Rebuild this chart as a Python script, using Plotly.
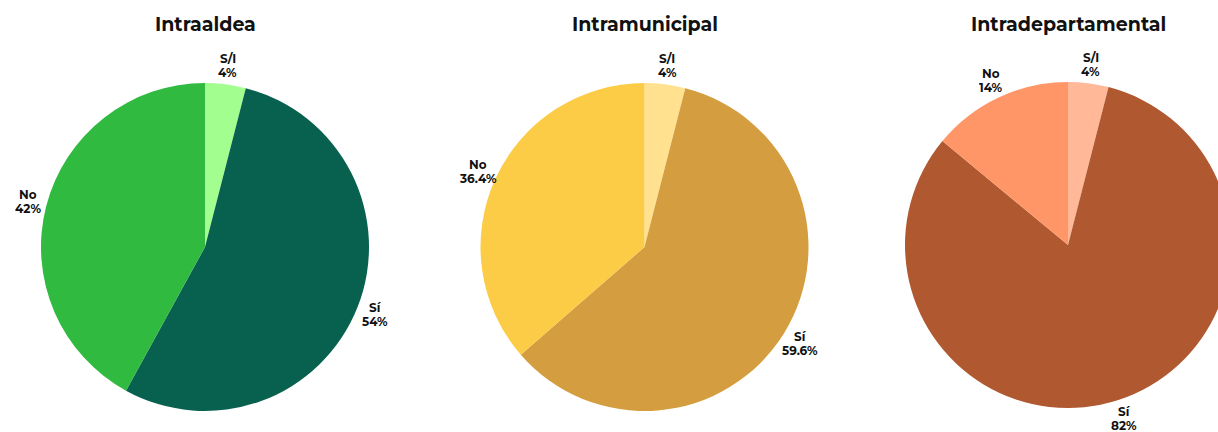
import math
import plotly.graph_objects as go

# Answer categories, drawn clockwise from 12 o'clock
categories = ["S/I", "Sí", "No"]

# Chart titles
titles = ["Intraaldea", "Intramunicipal", "Intradepartamental"]

# Percentages per scope (S/I, Sí, No)
intraaldea = [4, 54, 42]
intramunicipal = [4, 59.6, 36.4]
intradepartamental = [4, 82, 14]

series = [intraaldea, intramunicipal, intradepartamental]

# Slice colours per chart (S/I, Sí, No)
palettes = [
    ["#A2FE8F", "#08614F", "#30BA40"],
    ["#FFE18F", "#D49E40", "#FCCC46"],
    ["#FFB898", "#B05830", "#FF9668"],
]

# Canvas and pie geometry (pixels)
W, H = 1232, 432
centers = [(205, 247), (644.5, 247), (1068, 245)]
radii = [164, 164, 163]
label_gap = 19
line_step = 14
title_y = 25

FONT = "Montserrat, 'Open Sans', sans-serif"

fig = go.Figure()
annotations = []


def px_note(text, x, y, size, box_h=None):
    note = dict(
        text=text, xref="paper", yref="paper",
        x=x / W, y=1 - y / H, xanchor="center", yanchor="middle",
        showarrow=False, align="center",
        font=dict(family=FONT, size=size, color="#111111", weight=700),
    )
    if box_h:
        note["height"] = box_h
    return note


for values, colors, title, (cx, cy), R in zip(series, palettes, titles, centers, radii):
    fig.add_trace(go.Pie(
        labels=categories,
        values=values,
        sort=False,
        direction="clockwise",
        rotation=0,
        marker=dict(colors=colors, line=dict(width=0)),
        textinfo="none",
        hoverinfo="skip",
        showlegend=False,
        domain=dict(
            x=[(cx - R) / W, (cx + R) / W],
            y=[1 - (cy + R) / H, 1 - (cy - R) / H],
        ),
    ))

    # Title above each pie
    annotations.append(px_note(title, cx, title_y, 19))

    # Two-line outside labels at each slice's mid angle
    total = sum(values)
    cum = 0.0
    for cat, v in zip(categories, values):
        mid = (cum + v / 2) / total * 2 * math.pi
        cum += v
        r = R + label_gap
        lx = cx + r * math.sin(mid)
        ly = cy - r * math.cos(mid)
        annotations.append(px_note(cat, lx, ly - line_step / 2, 12, 12))
        annotations.append(px_note(f"{v:g}%", lx, ly + line_step / 2, 12, 12))

fig.update_layout(
    width=W, height=H,
    margin=dict(l=0, r=0, t=0, b=0),
    paper_bgcolor="white",
    plot_bgcolor="white",
    annotations=annotations,
)

fig.write_html(
    "out.html",
    post_script=(
        "document.body.style.margin='0';"
        "document.body.style.overflow='hidden';"
        "document.documentElement.style.overflow='hidden';"
    ),
)
